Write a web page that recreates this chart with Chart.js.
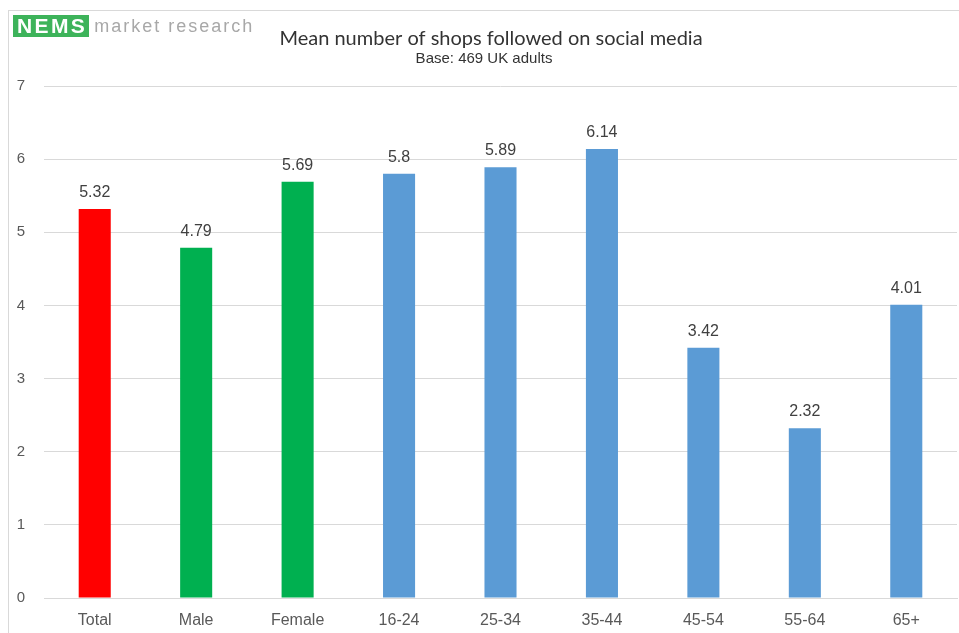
<!DOCTYPE html>
<html>
<head>
<meta charset="utf-8">
<script src="https://cdn.jsdelivr.net/npm/chart.js@4.4.1/dist/chart.umd.min.js"></script>
<style>
  html, body { margin: 0; padding: 0; background: #fff; }
  #wrap { position: relative; width: 959px; height: 633px; }
  #frame { position: absolute; left: 8px; top: 10px; width: 951px; height: 623px; border-left: 1px solid #d9d9d9; border-top: 1px solid #d9d9d9; box-sizing: border-box; }
  #logo { position: absolute; left: 13px; top: 15px; height: 22px; display: flex; align-items: center; }
  #logo .nems { background: #3db35a; color: #fff; font: bold 21px "Liberation Sans", Arial, sans-serif; height: 22px; line-height: 22px; padding: 0 2px 0 4px; letter-spacing: 2.4px; }
  #logo .mr { color: #a8a8a8; font: 18px "Liberation Sans", Arial, sans-serif; margin-left: 5px; letter-spacing: 2px; }
  canvas { position: absolute; left: 0; top: 0; }
</style>
</head>
<body>
<div id="wrap">
  <div id="frame"></div>
  <canvas id="c" width="959" height="633"></canvas>
  <div id="logo"><span class="nems">NEMS</span><span class="mr">market research</span></div>
</div>
<script>
const categories = ["Total", "Male", "Female", "16-24", "25-34", "35-44", "45-54", "55-64", "65+"];
const values = [5.32, 4.79, 5.69, 5.8, 5.89, 6.14, 3.42, 2.32, 4.01];
const barColors = ["#FF0000", "#00B050", "#00B050", "#5B9BD5", "#5B9BD5", "#5B9BD5", "#5B9BD5", "#5B9BD5", "#5B9BD5"];
const yTicks = [0, 1, 2, 3, 4, 5, 6, 7];
const titleText = "Mean number of shops followed on social media";
const subtitleText = "Base: 469 UK adults";

const FONT = '"Liberation Sans", Arial, sans-serif';

const overlay = {
  id: 'overlay',
  afterDatasetsDraw(chart) {
    const ctx = chart.ctx;
    ctx.save();
    const meta = chart.getDatasetMeta(0);
    ctx.fillStyle = '#404040';
    ctx.font = '16px ' + FONT;
    ctx.textAlign = 'center';
    ctx.textBaseline = 'alphabetic';
    meta.data.forEach((bar, i) => {
      ctx.fillText(String(values[i]), bar.x, bar.y - 12);
    });
    ctx.restore();
  },
  afterDraw(chart) {
    const ctx = chart.ctx;
    ctx.save();
    ctx.fillStyle = '#333333';
    ctx.textAlign = 'center';
    ctx.textBaseline = 'alphabetic';
    ctx.font = '20px Lato, "Open Sans", sans-serif';
    ctx.fillText(titleText, 491, 45);
    ctx.font = '15px ' + FONT;
    ctx.fillText(subtitleText, 484, 63);
    ctx.restore();
  }
};

new Chart(document.getElementById('c'), {
  type: 'bar',
  data: {
    labels: categories,
    datasets: [{
      data: values,
      backgroundColor: barColors,
      borderWidth: 0,
      categoryPercentage: 1,
      barPercentage: 0.316
    }]
  },
  options: {
    responsive: false,
    animation: false,
    devicePixelRatio: 1,
    layout: { padding: { top: 86, right: 2, left: 0, bottom: 0 } },
    plugins: {
      legend: { display: false },
      tooltip: { enabled: false },
      title: { display: false }
    },
    scales: {
      x: {
        grid: { display: false, drawTicks: false },
        border: { display: true, color: '#d9d9d9', width: 1 },
        ticks: { color: '#595959', font: { family: FONT, size: 16 }, padding: 13, maxRotation: 0 },
        afterFit(scale) { scale.height = 35; }
      },
      y: {
        min: 0, max: 7,
        afterBuildTicks(scale) { scale.ticks = yTicks.map(v => ({ value: v })); },
        grid: { color: '#d9d9d9', drawTicks: false },
        border: { display: false },
        ticks: { color: '#595959', font: { family: FONT, size: 15 }, padding: 19 },
        afterFit(scale) { scale.width = 44; }
      }
    }
  },
  plugins: [overlay]
});
</script>
</body>
</html>
